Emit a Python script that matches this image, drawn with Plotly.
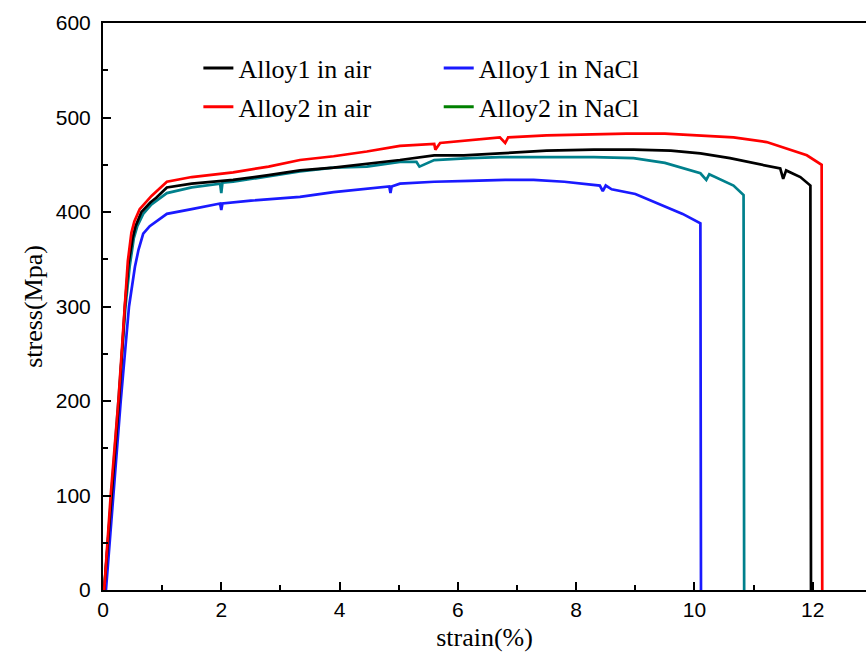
import plotly.graph_objects as go

# ---- data ----
alloy1_air_x = [0.02, 0.14, 0.27, 0.37, 0.43, 0.5, 0.55, 0.65, 0.8, 0.9, 1.08, 1.5, 2.2, 2.8, 3.33, 3.9,
                4.46, 5.02, 5.6, 6.1, 6.71, 7.5, 8.3, 8.97, 9.6, 10.1, 10.6, 11.0, 11.45, 11.5, 11.55,
                11.79, 11.96, 11.97]
alloy1_air_y = [0, 100, 200, 300, 345, 372, 385, 400, 410, 415, 426, 430, 434, 439, 444, 447,
                451, 455, 460, 460, 462, 465, 466, 466, 465, 462, 457, 452, 446, 435, 444,
                437, 428, 0]

alloy2_air_x = [0.02, 0.13, 0.26, 0.36, 0.42, 0.48, 0.53, 0.62, 0.74, 0.82, 1.08, 1.5, 2.2, 2.8, 3.33,
                3.9, 4.46, 5.02, 5.6, 5.62, 5.7, 6.2, 6.71, 6.8, 6.85, 7.5, 8.2, 8.85, 9.5, 10.09,
                10.66, 11.22, 11.56, 11.9, 12.15, 12.16]
alloy2_air_y = [0, 100, 200, 300, 348, 378, 390, 403, 412, 417, 432, 437, 442, 448, 455,
                459, 464, 470, 472, 466, 473, 476, 479, 473, 479, 481, 482, 483, 483, 481,
                479, 474, 467, 460, 450, 0]

alloy1_nacl_x = [0.05, 0.17, 0.3, 0.44, 0.5, 0.54, 0.6, 0.68, 0.79, 0.96, 1.08, 1.5, 1.98, 2.0, 2.02,
                 2.5, 3.33, 3.9, 4.46, 4.84, 4.86, 4.88, 5.02, 5.6, 6.2, 6.8, 7.28, 7.8, 8.4, 8.45,
                 8.5, 8.6, 9.0, 9.53, 9.8, 10.1, 10.11]
alloy1_nacl_y = [0, 100, 200, 300, 325, 342, 360, 377, 385, 393, 398, 403, 409, 402, 409,
                 412, 416, 421, 425, 427, 420, 427, 430, 432, 433, 434, 434, 432, 428, 422,
                 428, 424, 419, 405, 398, 388, 0]

alloy2_nacl_x = [0.02, 0.14, 0.27, 0.38, 0.45, 0.52, 0.58, 0.68, 0.82, 0.95, 1.08, 1.5, 1.98, 2.0, 2.02,
                 2.2, 2.8, 3.33, 3.9, 4.46, 5.02, 5.3, 5.35, 5.6, 6.2, 6.71, 7.5, 8.3, 8.97, 9.5,
                 10.1, 10.2, 10.25, 10.35, 10.66, 10.83, 10.84]
alloy2_nacl_y = [0, 100, 200, 300, 342, 372, 385, 398, 408, 414, 420, 426, 430, 420, 431,
                 432, 438, 443, 447, 448, 453, 453, 448, 455, 457, 458, 458, 458, 457, 452,
                 441, 434, 440, 437, 428, 418, 0]

series_names = ["Alloy1 in air", "Alloy1 in NaCl", "Alloy2 in air", "Alloy2 in NaCl"]
line_colors = ["#000000", "#1a1aff", "#ff0000", "#00808c"]
legend_colors = ["#000000", "#1a1aff", "#ff0000", "#008000"]

x_ticks = [0, 2, 4, 6, 8, 10, 12]
y_ticks = [0, 100, 200, 300, 400, 500, 600]

fig = go.Figure()
curves = [(alloy1_air_x, alloy1_air_y), (alloy1_nacl_x, alloy1_nacl_y),
          (alloy2_air_x, alloy2_air_y), (alloy2_nacl_x, alloy2_nacl_y)]
# draw order: NaCl curves first, air on top
for i in [3, 1, 0, 2]:
    xs, ys = curves[i]
    fig.add_trace(go.Scatter(x=xs, y=ys, mode="lines", showlegend=False,
                             line=dict(color=line_colors[i], width=2.7)))

legend_ids = ["legend", "legend2", "legend", "legend2"]
for i in [0, 2, 1, 3]:
    fig.add_trace(go.Scatter(x=[None], y=[None], mode="lines", name=series_names[i],
                             legend=legend_ids[i], legendgroup=series_names[i],
                             line=dict(color=legend_colors[i], width=3)))

legend_font = dict(family="Liberation Serif, Times New Roman, serif", size=26, color="#000")
fig.update_layout(
    width=866, height=655,
    margin=dict(l=103, r=0, t=23, b=65),
    paper_bgcolor="white", plot_bgcolor="white",
    legend=dict(x=0.125, y=0.962, xanchor="left", yanchor="top", font=legend_font,
                tracegroupgap=2, bgcolor="rgba(0,0,0,0)"),
    legend2=dict(x=0.44, y=0.962, xanchor="left", yanchor="top", font=legend_font,
                 tracegroupgap=2, bgcolor="rgba(0,0,0,0)"),
)
fig.update_xaxes(
    range=[0, 12.9], tickvals=x_ticks, ticktext=[str(v) for v in x_ticks],
    ticks="inside", ticklen=8, tickwidth=2, tickcolor="#000",
    minor=dict(dtick=1, ticks="inside", ticklen=5, tickwidth=2, tickcolor="#000"),
    showline=True, linewidth=2, linecolor="#000", mirror=True,
    showgrid=False, zeroline=False,
    tickfont=dict(family="Liberation Sans, Arial, sans-serif", size=21, color="#000"),
    title=dict(text="strain(%)", standoff=8,
               font=dict(family="Liberation Serif, Times New Roman, serif", size=26, color="#000")),
)
fig.update_yaxes(
    range=[0, 600], tickvals=y_ticks, ticktext=[str(v) for v in y_ticks],
    ticks="inside", ticklen=8, tickwidth=2, tickcolor="#000",
    minor=dict(dtick=50, ticks="inside", ticklen=5, tickwidth=2, tickcolor="#000"),
    showline=True, linewidth=2, linecolor="#000",
    showgrid=False, zeroline=False,
    tickfont=dict(family="Liberation Sans, Arial, sans-serif", size=21, color="#000"),
    ticklabelstandoff=6,
    title=dict(text="stress(Mpa)", standoff=6,
               font=dict(family="Liberation Serif, Times New Roman, serif", size=26, color="#000")),
)

fig.write_html("out.html")
